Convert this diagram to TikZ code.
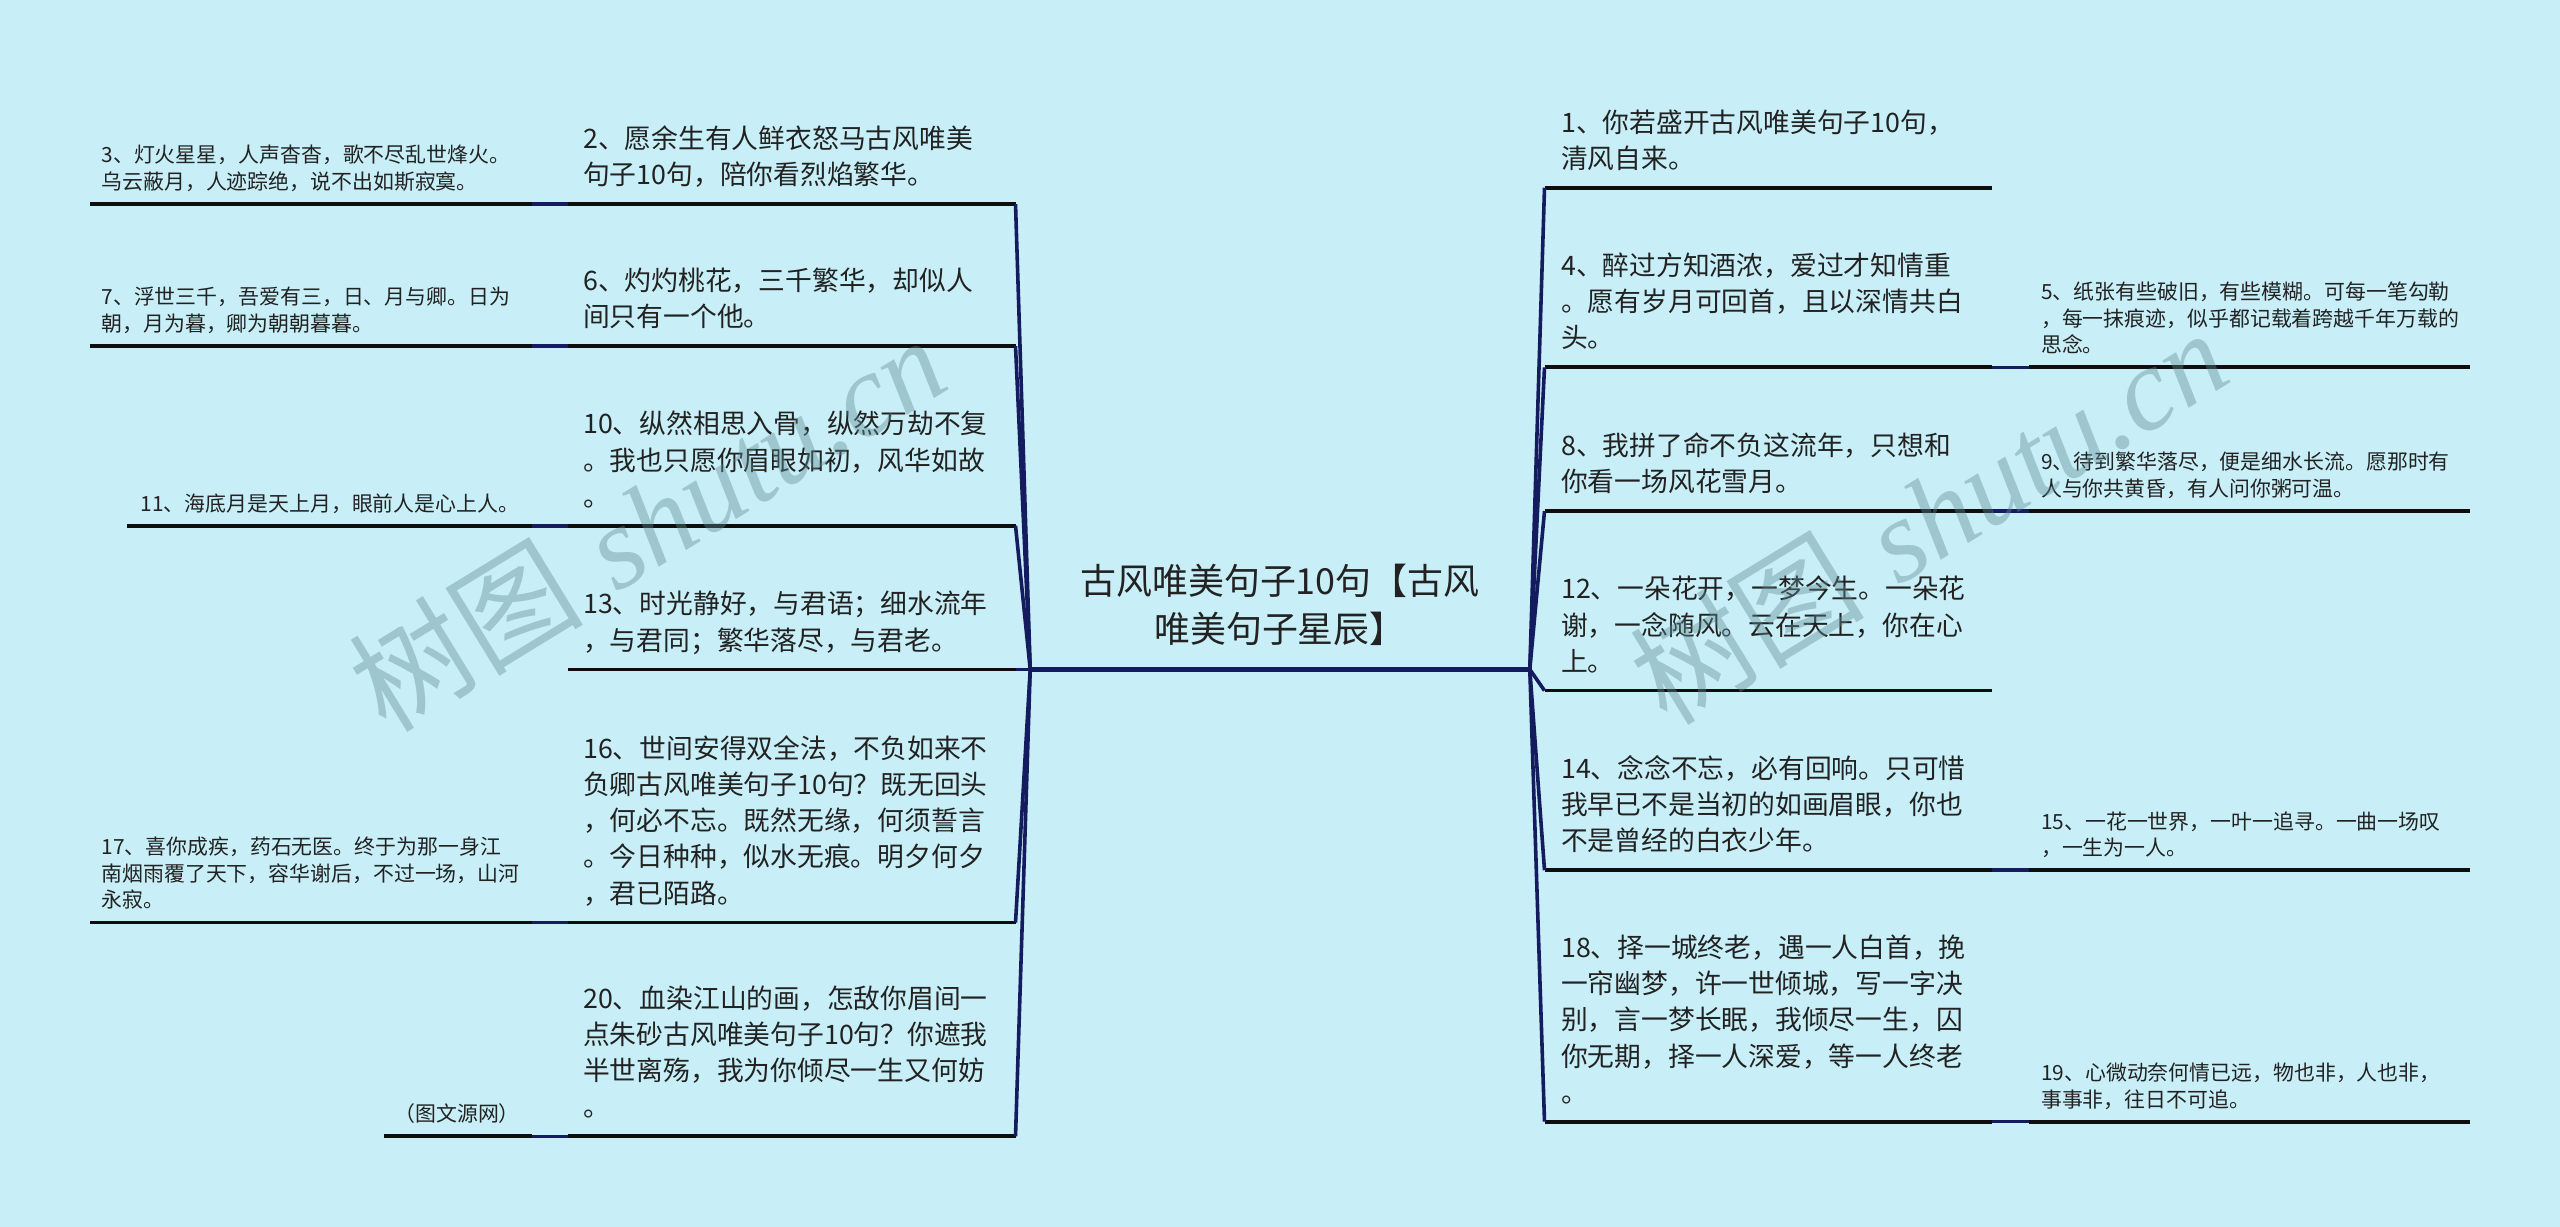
\documentclass[tikz,border=0pt]{standalone}
\usepackage{fontspec}
\newfontfamily\cjk{Noto Sans CJK SC}
\newfontfamily\wmserif{Liberation Serif}
\definecolor{bgc}{HTML}{C8EFF7}
\definecolor{navy}{HTML}{141B5E}
\definecolor{ulc}{HTML}{0E0E0E}
\definecolor{txtc}{HTML}{222222}
\definecolor{wmc}{HTML}{5E8A92}
\tikzset{
 lone/.style={anchor=south west,inner sep=0pt,align=left,text=txtc,font=\cjk\fontsize{16.4}{22.2}\selectfont,execute at end node=\strut},
 ltwo/.style={anchor=south west,inner sep=0pt,align=left,text=txtc,font=\cjk\fontsize{12.8}{16.3}\selectfont,execute at end node=\strut},
 rootnode/.style={anchor=south,inner sep=0pt,align=center,text=txtc,font=\cjk\fontsize{22}{29.5}\selectfont,execute at end node=\strut},
 uline/.style={draw=ulc,line width=2.3pt},
 rootline/.style={draw=navy,line width=2.8pt},
 conn/.style={draw=navy,line width=2.2pt},
 wmark/.style={rotate=31.5,text=wmc,text opacity=0.4,inner sep=0pt,font=\fontsize{72}{78}\selectfont}
}
\begin{document}
\begin{tikzpicture}[x=1pt,y=-1pt]
\fill[bgc] (0,0) rectangle (1568,751.5);
\useasboundingbox (0,0) rectangle (1568,751.5);

% ---------- coordinates ----------
\coordinate (rootL) at (631,410);
\coordinate (rootR) at (937,410);
% left level 1
\coordinate (L2a) at (348,125); \coordinate (L2b) at (622,125);
\coordinate (L6a) at (348,212); \coordinate (L6b) at (622,212);
\coordinate (L10a) at (348,322); \coordinate (L10b) at (622,322);
\coordinate (L13a) at (348,410); \coordinate (L13b) at (622,410);
\coordinate (L16a) at (348,565); \coordinate (L16b) at (622,565);
\coordinate (L20a) at (348,696); \coordinate (L20b) at (622,696);
% left level 2
\coordinate (L3a) at (55,125); \coordinate (L3b) at (326,125);
\coordinate (L7a) at (55,212); \coordinate (L7b) at (326,212);
\coordinate (L11a) at (78,322); \coordinate (L11b) at (326,322);
\coordinate (L17a) at (55,565); \coordinate (L17b) at (326,565);
\coordinate (Lsa) at (235,696); \coordinate (Lsb) at (326,696);
% right level 1
\coordinate (R1a) at (946,115); \coordinate (R1b) at (1220,115);
\coordinate (R4a) at (946,225); \coordinate (R4b) at (1220,225);
\coordinate (R8a) at (946,313); \coordinate (R8b) at (1220,313);
\coordinate (R12a) at (946,423); \coordinate (R12b) at (1220,423);
\coordinate (R14a) at (946,533); \coordinate (R14b) at (1220,533);
\coordinate (R18a) at (946,687); \coordinate (R18b) at (1220,687);
% right level 2
\coordinate (R5a) at (1243,225); \coordinate (R5b) at (1513,225);
\coordinate (R9a) at (1243,313); \coordinate (R9b) at (1513,313);
\coordinate (R15a) at (1243,533); \coordinate (R15b) at (1513,533);
\coordinate (R19a) at (1243,687); \coordinate (R19b) at (1513,687);

% ---------- underlines ----------
\foreach \n in {L2,L6,L10,L13,L16,L20,L3,L7,L11,L17,Ls,R1,R4,R8,R12,R14,R18,R5,R9,R15,R19}
  \draw[uline] (\n a) -- (\n b);
\draw[rootline] (rootL) -- (rootR);

% ---------- connectors ----------
\foreach \n in {L2,L6,L10,L13,L16,L20}
  \draw[conn] (rootL) -- (\n b);
\foreach \n in {R1,R4,R8,R12,R14,R18}
  \draw[conn] (rootR) -- (\n a);
\draw[conn] (L2a) -- (L3b);
\draw[conn] (L6a) -- (L7b);
\draw[conn] (L10a) -- (L11b);
\draw[conn] (L16a) -- (L17b);
\draw[conn] (L20a) -- (Lsb);
\draw[conn] (R4b) -- (R5a);
\draw[conn] (R8b) -- (R9a);
\draw[conn] (R14b) -- (R15a);
\draw[conn] (R18b) -- (R19a);

% ---------- root ----------
\node[rootnode] (root) at (784,402.8) {古风唯美句子10句【古风\\唯美句子星辰】};

% ---------- left level 1 ----------
\node[lone] (n2) at (357,120) {2、愿余生有人鲜衣怒马古风唯美\\句子10句，陪你看烈焰繁华。};
\node[lone] (n6) at (357,207) {6、灼灼桃花，三千繁华，却似人\\间只有一个他。};
\node[lone] (n10) at (357,317) {10、纵然相思入骨，纵然万劫不复\\。我也只愿你眉眼如初，风华如故\\。};
\node[lone] (n13) at (357,405) {13、时光静好，与君语；细水流年\\，与君同；繁华落尽，与君老。};
\node[lone] (n16) at (357,560) {16、世间安得双全法，不负如来不\\负卿古风唯美句子10句？既无回头\\，何必不忘。既然无缘，何须誓言\\。今日种种，似水无痕。明夕何夕\\，君已陌路。};
\node[lone] (n20) at (357,691) {20、血染江山的画，怎敌你眉间一\\点朱砂古风唯美句子10句？你遮我\\半世离殇，我为你倾尽一生又何妨\\。};

% ---------- left level 2 ----------
\node[ltwo] (n3) at (62,121.2) {3、灯火星星，人声杳杳，歌不尽乱世烽火。\\乌云蔽月，人迹踪绝，说不出如斯寂寞。};
\node[ltwo] (n7) at (62,208.2) {7、浮世三千，吾爱有三，日、月与卿。日为\\朝，月为暮，卿为朝朝暮暮。};
\node[ltwo] (n11) at (86,318.2) {11、海底月是天上月，眼前人是心上人。};
\node[ltwo] (n17) at (62,561.2) {17、喜你成疾，药石无医。终于为那一身江\\南烟雨覆了天下，容华谢后，不过一场，山河\\永寂。};
\node[ltwo,anchor=south] (src) at (280,692.2) {（图文源网）};

% ---------- right level 1 ----------
\node[lone] (n1) at (956,110) {1、你若盛开古风唯美句子10句，\\清风自来。};
\node[lone] (n4) at (956,220) {4、醉过方知酒浓，爱过才知情重\\。愿有岁月可回首，且以深情共白\\头。};
\node[lone] (n8) at (956,308) {8、我拼了命不负这流年，只想和\\你看一场风花雪月。};
\node[lone] (n12) at (956,418) {12、一朵花开，一梦今生。一朵花\\谢，一念随风。云在天上，你在心\\上。};
\node[lone] (n14) at (956,528) {14、念念不忘，必有回响。只可惜\\我早已不是当初的如画眉眼，你也\\不是曾经的白衣少年。};
\node[lone] (n18) at (956,682) {18、择一城终老，遇一人白首，挽\\一帘幽梦，许一世倾城，写一字决\\别，言一梦长眠，我倾尽一生，囚\\你无期，择一人深爱，等一人终老\\。};

% ---------- right level 2 ----------
\node[ltwo] (n5) at (1250,221.2) {5、纸张有些破旧，有些模糊。可每一笔勾勒\\，每一抹痕迹，似乎都记载着跨越千年万载的\\思念。};
\node[ltwo] (n9) at (1250,309.2) {9、待到繁华落尽，便是细水长流。愿那时有\\人与你共黄昏，有人问你粥可温。};
\node[ltwo] (n15) at (1250,529.2) {15、一花一世界，一叶一追寻。一曲一场叹\\，一生为一人。};
\node[ltwo] (n19) at (1250,683.2) {19、心微动奈何情已远，物也非，人也非，\\事事非，往日不可追。};

% ---------- watermarks ----------
\node[wmark] (wm1) at (396,320) {{\cjk 树图} {\wmserif\itshape shutu.cn}};
\node[wmark] (wm2) at (1181,316) {{\cjk 树图} {\wmserif\itshape shutu.cn}};
\end{tikzpicture}
\end{document}
